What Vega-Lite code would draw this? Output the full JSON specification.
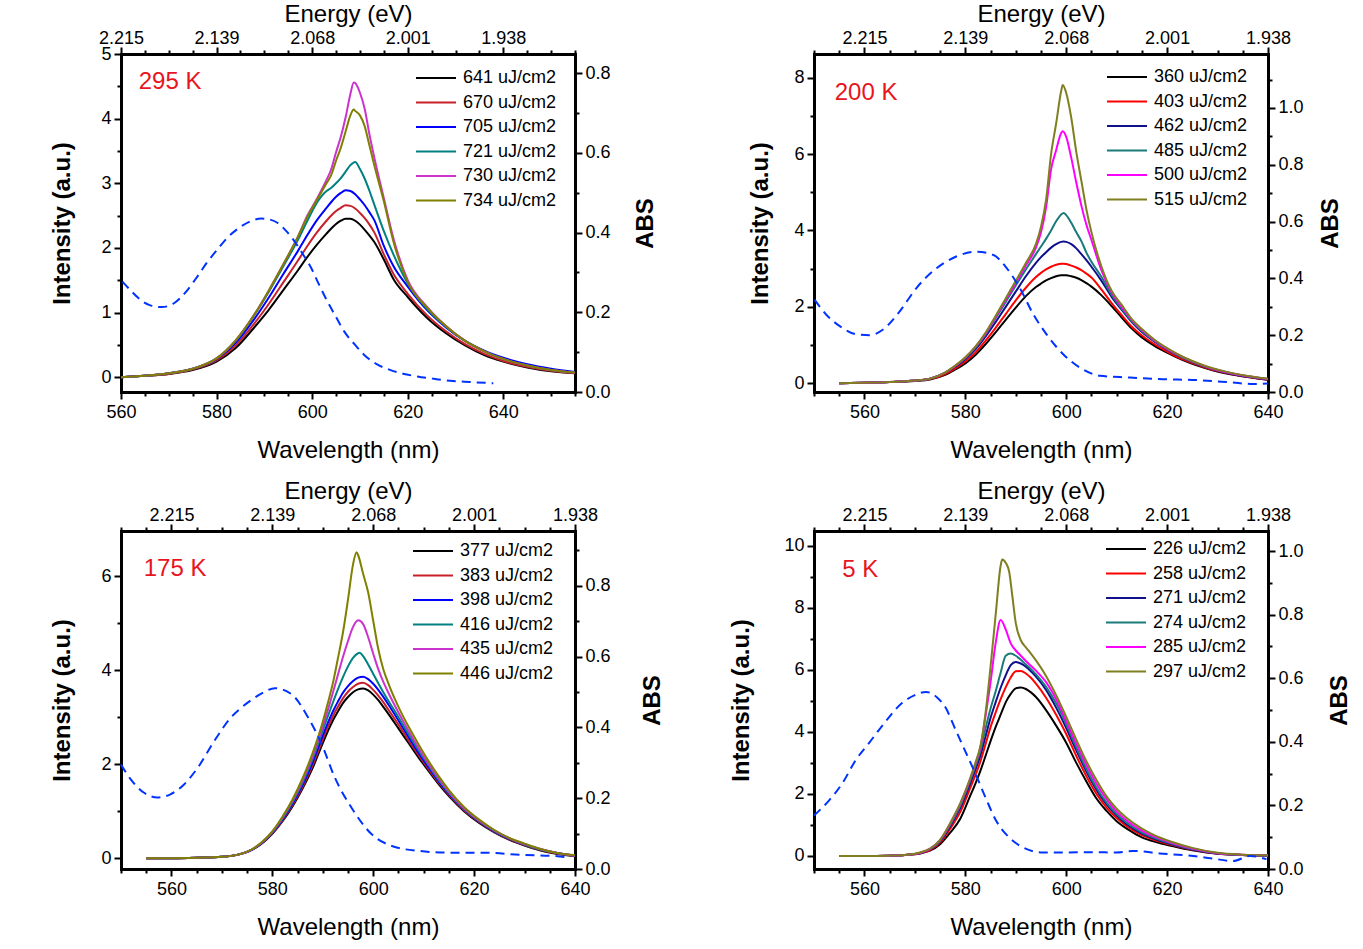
{
"$schema": "https://vega.github.io/schema/vega-lite/v6.json",
"background": "white",
"padding": {"left": 50, "top": 2, "right": 5, "bottom": 5},
"columns": 2,
"spacing": {"row": 139, "column": 239},
"bounds": "flush",
"datasets": {
"p1": [
{"s":"641","w":560,"v":0},{"s":"641","w":565,"v":0.02},{"s":"641","w":570,"v":0.05},{"s":"641","w":575,"v":0.11},{"s":"641","w":580,"v":0.24},{"s":"641","w":584,"v":0.45},{"s":"641","w":588,"v":0.78},{"s":"641","w":591,"v":1.05},{"s":"641","w":594,"v":1.35},{"s":"641","w":597,"v":1.65},{"s":"641","w":599,"v":1.86},{"s":"641","w":601,"v":2.05},{"s":"641","w":603,"v":2.22},{"s":"641","w":604,"v":2.30},{"s":"641","w":605,"v":2.37},{"s":"641","w":606,"v":2.42},{"s":"641","w":607,"v":2.45},{"s":"641","w":608,"v":2.45},{"s":"641","w":609,"v":2.42},{"s":"641","w":610,"v":2.36},{"s":"641","w":611,"v":2.28},{"s":"641","w":612,"v":2.19},{"s":"641","w":613,"v":2.09},{"s":"641","w":615,"v":1.82},{"s":"641","w":617,"v":1.52},{"s":"641","w":620,"v":1.24},{"s":"641","w":624,"v":0.92},{"s":"641","w":628,"v":0.68},{"s":"641","w":632,"v":0.49},{"s":"641","w":636,"v":0.34},{"s":"641","w":640,"v":0.24},{"s":"641","w":645,"v":0.15},{"s":"641","w":650,"v":0.09},{"s":"641","w":655,"v":0.06},
{"s":"670","w":560,"v":0},{"s":"670","w":565,"v":0.02},{"s":"670","w":570,"v":0.05},{"s":"670","w":575,"v":0.12},{"s":"670","w":580,"v":0.26},{"s":"670","w":584,"v":0.49},{"s":"670","w":588,"v":0.84},{"s":"670","w":591,"v":1.14},{"s":"670","w":594,"v":1.47},{"s":"670","w":597,"v":1.80},{"s":"670","w":599,"v":2.03},{"s":"670","w":601,"v":2.24},{"s":"670","w":603,"v":2.42},{"s":"670","w":604,"v":2.50},{"s":"670","w":605,"v":2.57},{"s":"670","w":606,"v":2.62},{"s":"670","w":607,"v":2.66},{"s":"670","w":608,"v":2.65},{"s":"670","w":609,"v":2.61},{"s":"670","w":610,"v":2.54},{"s":"670","w":611,"v":2.46},{"s":"670","w":612,"v":2.36},{"s":"670","w":613,"v":2.24},{"s":"670","w":615,"v":1.90},{"s":"670","w":617,"v":1.60},{"s":"670","w":620,"v":1.29},{"s":"670","w":624,"v":0.96},{"s":"670","w":628,"v":0.71},{"s":"670","w":632,"v":0.51},{"s":"670","w":636,"v":0.36},{"s":"670","w":640,"v":0.25},{"s":"670","w":645,"v":0.16},{"s":"670","w":650,"v":0.10},{"s":"670","w":655,"v":0.06},
{"s":"705","w":560,"v":0},{"s":"705","w":565,"v":0.02},{"s":"705","w":570,"v":0.06},{"s":"705","w":575,"v":0.13},{"s":"705","w":580,"v":0.28},{"s":"705","w":584,"v":0.53},{"s":"705","w":588,"v":0.91},{"s":"705","w":591,"v":1.24},{"s":"705","w":594,"v":1.60},{"s":"705","w":597,"v":1.95},{"s":"705","w":599,"v":2.20},{"s":"705","w":601,"v":2.43},{"s":"705","w":603,"v":2.62},{"s":"705","w":604,"v":2.71},{"s":"705","w":605,"v":2.79},{"s":"705","w":606,"v":2.85},{"s":"705","w":607,"v":2.89},{"s":"705","w":608,"v":2.88},{"s":"705","w":609,"v":2.83},{"s":"705","w":610,"v":2.75},{"s":"705","w":611,"v":2.66},{"s":"705","w":612,"v":2.55},{"s":"705","w":613,"v":2.43},{"s":"705","w":615,"v":2.03},{"s":"705","w":617,"v":1.72},{"s":"705","w":620,"v":1.40},{"s":"705","w":624,"v":1.04},{"s":"705","w":628,"v":0.77},{"s":"705","w":632,"v":0.56},{"s":"705","w":636,"v":0.41},{"s":"705","w":640,"v":0.30},{"s":"705","w":645,"v":0.20},{"s":"705","w":650,"v":0.13},{"s":"705","w":655,"v":0.08},
{"s":"721","w":560,"v":0},{"s":"721","w":565,"v":0.02},{"s":"721","w":570,"v":0.06},{"s":"721","w":575,"v":0.13},{"s":"721","w":580,"v":0.29},{"s":"721","w":584,"v":0.56},{"s":"721","w":588,"v":0.97},{"s":"721","w":591,"v":1.33},{"s":"721","w":594,"v":1.72},{"s":"721","w":597,"v":2.12},{"s":"721","w":599,"v":2.42},{"s":"721","w":601,"v":2.70},{"s":"721","w":603,"v":2.88},{"s":"721","w":604,"v":2.93},{"s":"721","w":605,"v":3.00},{"s":"721","w":606,"v":3.08},{"s":"721","w":607,"v":3.18},{"s":"721","w":608,"v":3.28},{"s":"721","w":609,"v":3.33},{"s":"721","w":610,"v":3.22},{"s":"721","w":611,"v":3.07},{"s":"721","w":612,"v":2.88},{"s":"721","w":613,"v":2.67},{"s":"721","w":615,"v":2.26},{"s":"721","w":617,"v":1.90},{"s":"721","w":620,"v":1.45},{"s":"721","w":624,"v":1.06},{"s":"721","w":628,"v":0.78},{"s":"721","w":632,"v":0.56},{"s":"721","w":636,"v":0.40},{"s":"721","w":640,"v":0.28},{"s":"721","w":645,"v":0.18},{"s":"721","w":650,"v":0.11},{"s":"721","w":655,"v":0.07},
{"s":"730","w":560,"v":0},{"s":"730","w":565,"v":0.02},{"s":"730","w":570,"v":0.06},{"s":"730","w":575,"v":0.13},{"s":"730","w":580,"v":0.29},{"s":"730","w":584,"v":0.57},{"s":"730","w":588,"v":0.98},{"s":"730","w":591,"v":1.35},{"s":"730","w":594,"v":1.75},{"s":"730","w":597,"v":2.17},{"s":"730","w":599,"v":2.50},{"s":"730","w":601,"v":2.76},{"s":"730","w":603,"v":3.05},{"s":"730","w":604,"v":3.22},{"s":"730","w":605,"v":3.48},{"s":"730","w":606,"v":3.72},{"s":"730","w":607,"v":4.02},{"s":"730","w":608,"v":4.38},{"s":"730","w":608.7,"v":4.56},{"s":"730","w":609,"v":4.55},{"s":"730","w":610,"v":4.40},{"s":"730","w":611,"v":4.15},{"s":"730","w":612,"v":3.75},{"s":"730","w":613,"v":3.40},{"s":"730","w":615,"v":2.77},{"s":"730","w":617,"v":2.15},{"s":"730","w":620,"v":1.50},{"s":"730","w":624,"v":1.09},{"s":"730","w":628,"v":0.79},{"s":"730","w":632,"v":0.56},{"s":"730","w":636,"v":0.40},{"s":"730","w":640,"v":0.28},{"s":"730","w":645,"v":0.18},{"s":"730","w":650,"v":0.11},{"s":"730","w":655,"v":0.07},
{"s":"734","w":560,"v":0},{"s":"734","w":565,"v":0.02},{"s":"734","w":570,"v":0.06},{"s":"734","w":575,"v":0.13},{"s":"734","w":580,"v":0.29},{"s":"734","w":584,"v":0.57},{"s":"734","w":588,"v":0.98},{"s":"734","w":591,"v":1.35},{"s":"734","w":594,"v":1.75},{"s":"734","w":597,"v":2.17},{"s":"734","w":599,"v":2.48},{"s":"734","w":601,"v":2.74},{"s":"734","w":603,"v":3.00},{"s":"734","w":604,"v":3.13},{"s":"734","w":605,"v":3.35},{"s":"734","w":606,"v":3.55},{"s":"734","w":607,"v":3.80},{"s":"734","w":608,"v":4.05},{"s":"734","w":608.7,"v":4.14},{"s":"734","w":609,"v":4.12},{"s":"734","w":610,"v":4.05},{"s":"734","w":611,"v":3.88},{"s":"734","w":612,"v":3.58},{"s":"734","w":613,"v":3.28},{"s":"734","w":615,"v":2.72},{"s":"734","w":617,"v":2.10},{"s":"734","w":620,"v":1.47},{"s":"734","w":624,"v":1.08},{"s":"734","w":628,"v":0.79},{"s":"734","w":632,"v":0.56},{"s":"734","w":636,"v":0.40},{"s":"734","w":640,"v":0.28},{"s":"734","w":645,"v":0.18},{"s":"734","w":650,"v":0.11},{"s":"734","w":655,"v":0.07}
],
"a1": [
{"w":560.3,"v":0.277},{"w":562,"v":0.255},{"w":564,"v":0.232},{"w":566,"v":0.218},{"w":568.5,"v":0.213},{"w":571,"v":0.222},{"w":573.5,"v":0.25},{"w":576,"v":0.29},{"w":578,"v":0.325},{"w":580.4,"v":0.361},{"w":582.5,"v":0.39},{"w":584.5,"v":0.41},{"w":587,"v":0.428},{"w":589.4,"v":0.435},{"w":591,"v":0.433},{"w":592.8,"v":0.424},{"w":594.5,"v":0.405},{"w":596.3,"v":0.378},{"w":598,"v":0.347},{"w":599.8,"v":0.311},{"w":601.5,"v":0.268},{"w":603.2,"v":0.227},{"w":605,"v":0.188},{"w":606.7,"v":0.152},{"w":609,"v":0.118},{"w":610.9,"v":0.093},{"w":613.5,"v":0.07},{"w":616.4,"v":0.055},{"w":619,"v":0.046},{"w":622,"v":0.039},{"w":625.5,"v":0.033},{"w":628.9,"v":0.028},{"w":633,"v":0.025},{"w":637.9,"v":0.022}
],
"p2": [
{"s":"360","w":555,"v":0},{"s":"360","w":560,"v":0.01},{"s":"360","w":565,"v":0.03},{"s":"360","w":570,"v":0.06},{"s":"360","w":573,"v":0.10},{"s":"360","w":576,"v":0.22},{"s":"360","w":578,"v":0.36},{"s":"360","w":580,"v":0.52},{"s":"360","w":582,"v":0.74},{"s":"360","w":584,"v":1.02},{"s":"360","w":586,"v":1.33},{"s":"360","w":588,"v":1.66},{"s":"360","w":590,"v":1.98},{"s":"360","w":592,"v":2.28},{"s":"360","w":594,"v":2.52},{"s":"360","w":595,"v":2.61},{"s":"360","w":596,"v":2.69},{"s":"360","w":597,"v":2.75},{"s":"360","w":598,"v":2.80},{"s":"360","w":599,"v":2.83},{"s":"360","w":599.5,"v":2.83},{"s":"360","w":600,"v":2.83},{"s":"360","w":601,"v":2.80},{"s":"360","w":602,"v":2.76},{"s":"360","w":603,"v":2.70},{"s":"360","w":604,"v":2.62},{"s":"360","w":605,"v":2.53},{"s":"360","w":607,"v":2.30},{"s":"360","w":609,"v":2.02},{"s":"360","w":611,"v":1.72},{"s":"360","w":613,"v":1.43},{"s":"360","w":615,"v":1.20},{"s":"360","w":617.5,"v":0.98},{"s":"360","w":620,"v":0.80},{"s":"360","w":623,"v":0.61},{"s":"360","w":626,"v":0.46},{"s":"360","w":629,"v":0.34},{"s":"360","w":632,"v":0.25},{"s":"360","w":636,"v":0.16},{"s":"360","w":640,"v":0.09},
{"s":"403","w":555,"v":0},{"s":"403","w":560,"v":0.01},{"s":"403","w":565,"v":0.03},{"s":"403","w":570,"v":0.07},{"s":"403","w":573,"v":0.11},{"s":"403","w":576,"v":0.24},{"s":"403","w":578,"v":0.39},{"s":"403","w":580,"v":0.57},{"s":"403","w":582,"v":0.80},{"s":"403","w":584,"v":1.11},{"s":"403","w":586,"v":1.45},{"s":"403","w":588,"v":1.81},{"s":"403","w":590,"v":2.17},{"s":"403","w":592,"v":2.50},{"s":"403","w":594,"v":2.78},{"s":"403","w":595,"v":2.89},{"s":"403","w":596,"v":2.98},{"s":"403","w":597,"v":3.05},{"s":"403","w":598,"v":3.10},{"s":"403","w":599,"v":3.13},{"s":"403","w":599.5,"v":3.13},{"s":"403","w":600,"v":3.12},{"s":"403","w":601,"v":3.08},{"s":"403","w":602,"v":3.03},{"s":"403","w":603,"v":2.96},{"s":"403","w":604,"v":2.87},{"s":"403","w":605,"v":2.77},{"s":"403","w":607,"v":2.45},{"s":"403","w":609,"v":2.10},{"s":"403","w":611,"v":1.78},{"s":"403","w":613,"v":1.48},{"s":"403","w":615,"v":1.25},{"s":"403","w":617.5,"v":1.02},{"s":"403","w":620,"v":0.83},{"s":"403","w":623,"v":0.63},{"s":"403","w":626,"v":0.48},{"s":"403","w":629,"v":0.35},{"s":"403","w":632,"v":0.26},{"s":"403","w":636,"v":0.16},{"s":"403","w":640,"v":0.09},
{"s":"462","w":555,"v":0},{"s":"462","w":560,"v":0.01},{"s":"462","w":565,"v":0.03},{"s":"462","w":570,"v":0.07},{"s":"462","w":573,"v":0.12},{"s":"462","w":576,"v":0.27},{"s":"462","w":578,"v":0.43},{"s":"462","w":580,"v":0.63},{"s":"462","w":582,"v":0.89},{"s":"462","w":584,"v":1.22},{"s":"462","w":586,"v":1.60},{"s":"462","w":588,"v":2.00},{"s":"462","w":590,"v":2.40},{"s":"462","w":592,"v":2.80},{"s":"462","w":594,"v":3.15},{"s":"462","w":595,"v":3.30},{"s":"462","w":596,"v":3.43},{"s":"462","w":597,"v":3.55},{"s":"462","w":598,"v":3.64},{"s":"462","w":599,"v":3.70},{"s":"462","w":599.5,"v":3.71},{"s":"462","w":600,"v":3.70},{"s":"462","w":601,"v":3.64},{"s":"462","w":602,"v":3.53},{"s":"462","w":603,"v":3.38},{"s":"462","w":604,"v":3.22},{"s":"462","w":605,"v":3.05},{"s":"462","w":607,"v":2.68},{"s":"462","w":609,"v":2.26},{"s":"462","w":611,"v":1.92},{"s":"462","w":613,"v":1.60},{"s":"462","w":615,"v":1.34},{"s":"462","w":617.5,"v":1.09},{"s":"462","w":620,"v":0.88},{"s":"462","w":623,"v":0.67},{"s":"462","w":626,"v":0.50},{"s":"462","w":629,"v":0.37},{"s":"462","w":632,"v":0.27},{"s":"462","w":636,"v":0.17},{"s":"462","w":640,"v":0.10},
{"s":"485","w":555,"v":0},{"s":"485","w":560,"v":0.01},{"s":"485","w":565,"v":0.03},{"s":"485","w":570,"v":0.07},{"s":"485","w":573,"v":0.12},{"s":"485","w":576,"v":0.28},{"s":"485","w":578,"v":0.45},{"s":"485","w":580,"v":0.66},{"s":"485","w":582,"v":0.93},{"s":"485","w":584,"v":1.28},{"s":"485","w":586,"v":1.70},{"s":"485","w":588,"v":2.13},{"s":"485","w":590,"v":2.56},{"s":"485","w":592,"v":2.98},{"s":"485","w":594,"v":3.38},{"s":"485","w":595,"v":3.58},{"s":"485","w":596,"v":3.78},{"s":"485","w":597,"v":4.00},{"s":"485","w":598,"v":4.24},{"s":"485","w":599,"v":4.42},{"s":"485","w":599.5,"v":4.46},{"s":"485","w":600,"v":4.40},{"s":"485","w":601,"v":4.20},{"s":"485","w":602,"v":3.95},{"s":"485","w":603,"v":3.72},{"s":"485","w":604,"v":3.42},{"s":"485","w":605,"v":3.18},{"s":"485","w":607,"v":2.78},{"s":"485","w":609,"v":2.32},{"s":"485","w":611,"v":1.95},{"s":"485","w":613,"v":1.63},{"s":"485","w":615,"v":1.37},{"s":"485","w":617.5,"v":1.11},{"s":"485","w":620,"v":0.89},{"s":"485","w":623,"v":0.68},{"s":"485","w":626,"v":0.51},{"s":"485","w":629,"v":0.38},{"s":"485","w":632,"v":0.28},{"s":"485","w":636,"v":0.18},{"s":"485","w":640,"v":0.11},
{"s":"500","w":555,"v":0},{"s":"500","w":560,"v":0.01},{"s":"500","w":565,"v":0.03},{"s":"500","w":570,"v":0.07},{"s":"500","w":573,"v":0.12},{"s":"500","w":576,"v":0.28},{"s":"500","w":578,"v":0.45},{"s":"500","w":580,"v":0.67},{"s":"500","w":582,"v":0.95},{"s":"500","w":584,"v":1.30},{"s":"500","w":586,"v":1.73},{"s":"500","w":588,"v":2.18},{"s":"500","w":590,"v":2.62},{"s":"500","w":592,"v":3.08},{"s":"500","w":594,"v":3.55},{"s":"500","w":595,"v":3.95},{"s":"500","w":596,"v":4.60},{"s":"500","w":597,"v":5.60},{"s":"500","w":598,"v":6.10},{"s":"500","w":599,"v":6.55},{"s":"500","w":599.3,"v":6.60},{"s":"500","w":600,"v":6.45},{"s":"500","w":601,"v":5.90},{"s":"500","w":602,"v":5.25},{"s":"500","w":603,"v":4.65},{"s":"500","w":604,"v":4.15},{"s":"500","w":605,"v":3.75},{"s":"500","w":607,"v":2.95},{"s":"500","w":609,"v":2.38},{"s":"500","w":611,"v":2.00},{"s":"500","w":613,"v":1.66},{"s":"500","w":615,"v":1.39},{"s":"500","w":617.5,"v":1.12},{"s":"500","w":620,"v":0.90},{"s":"500","w":623,"v":0.69},{"s":"500","w":626,"v":0.52},{"s":"500","w":629,"v":0.38},{"s":"500","w":632,"v":0.28},{"s":"500","w":636,"v":0.18},{"s":"500","w":640,"v":0.11},
{"s":"515","w":555,"v":0},{"s":"515","w":560,"v":0.01},{"s":"515","w":565,"v":0.03},{"s":"515","w":570,"v":0.07},{"s":"515","w":573,"v":0.12},{"s":"515","w":576,"v":0.28},{"s":"515","w":578,"v":0.46},{"s":"515","w":580,"v":0.68},{"s":"515","w":582,"v":0.96},{"s":"515","w":584,"v":1.32},{"s":"515","w":586,"v":1.76},{"s":"515","w":588,"v":2.22},{"s":"515","w":590,"v":2.68},{"s":"515","w":592,"v":3.15},{"s":"515","w":594,"v":3.65},{"s":"515","w":595,"v":4.10},{"s":"515","w":596,"v":4.80},{"s":"515","w":597,"v":6.00},{"s":"515","w":598,"v":6.80},{"s":"515","w":599,"v":7.65},{"s":"515","w":599.3,"v":7.81},{"s":"515","w":600,"v":7.60},{"s":"515","w":601,"v":6.95},{"s":"515","w":602,"v":6.05},{"s":"515","w":603,"v":5.30},{"s":"515","w":604,"v":4.55},{"s":"515","w":605,"v":3.95},{"s":"515","w":607,"v":3.05},{"s":"515","w":609,"v":2.42},{"s":"515","w":611,"v":2.05},{"s":"515","w":613,"v":1.68},{"s":"515","w":615,"v":1.42},{"s":"515","w":617.5,"v":1.14},{"s":"515","w":620,"v":0.92},{"s":"515","w":623,"v":0.70},{"s":"515","w":626,"v":0.53},{"s":"515","w":629,"v":0.39},{"s":"515","w":632,"v":0.29},{"s":"515","w":636,"v":0.19},{"s":"515","w":640,"v":0.12}
],
"a2": [
{"w":550.1,"v":0.325},{"w":552.4,"v":0.273},{"w":555.1,"v":0.232},{"w":558.4,"v":0.203},{"w":561,"v":0.2},{"w":563.7,"v":0.22},{"w":567,"v":0.284},{"w":570.3,"v":0.366},{"w":574.3,"v":0.436},{"w":578.2,"v":0.477},{"w":582.2,"v":0.494},{"w":585.5,"v":0.483},{"w":588.2,"v":0.436},{"w":590.8,"v":0.366},{"w":593.5,"v":0.273},{"w":596.1,"v":0.203},{"w":599.4,"v":0.133},{"w":602.7,"v":0.086},{"w":606.7,"v":0.057},{"w":612.6,"v":0.051},{"w":619.2,"v":0.045},{"w":625.8,"v":0.042},{"w":632.5,"v":0.034},{"w":637.1,"v":0.028},{"w":640,"v":0.03}
],
"p3": [
{"s":"377","w":555,"v":0},{"s":"377","w":560,"v":0},{"s":"377","w":565,"v":0.01},{"s":"377","w":570,"v":0.03},{"s":"377","w":573,"v":0.07},{"s":"377","w":576,"v":0.18},{"s":"377","w":578,"v":0.32},{"s":"377","w":580,"v":0.52},{"s":"377","w":582,"v":0.78},{"s":"377","w":584,"v":1.10},{"s":"377","w":586,"v":1.48},{"s":"377","w":588,"v":1.92},{"s":"377","w":590,"v":2.45},{"s":"377","w":591,"v":2.70},{"s":"377","w":592,"v":2.93},{"s":"377","w":593,"v":3.12},{"s":"377","w":594,"v":3.30},{"s":"377","w":595,"v":3.43},{"s":"377","w":596,"v":3.53},{"s":"377","w":597,"v":3.59},{"s":"377","w":598,"v":3.61},{"s":"377","w":599,"v":3.57},{"s":"377","w":600,"v":3.48},{"s":"377","w":601,"v":3.36},{"s":"377","w":602,"v":3.22},{"s":"377","w":603,"v":3.07},{"s":"377","w":605,"v":2.76},{"s":"377","w":607,"v":2.45},{"s":"377","w":609,"v":2.14},{"s":"377","w":611,"v":1.85},{"s":"377","w":613,"v":1.57},{"s":"377","w":615,"v":1.32},{"s":"377","w":618,"v":1.00},{"s":"377","w":621,"v":0.75},{"s":"377","w":624,"v":0.55},{"s":"377","w":627,"v":0.39},{"s":"377","w":630,"v":0.27},{"s":"377","w":633,"v":0.17},{"s":"377","w":636,"v":0.10},{"s":"377","w":640,"v":0.04},
{"s":"383","w":555,"v":0},{"s":"383","w":560,"v":0},{"s":"383","w":565,"v":0.01},{"s":"383","w":570,"v":0.03},{"s":"383","w":573,"v":0.07},{"s":"383","w":576,"v":0.18},{"s":"383","w":578,"v":0.33},{"s":"383","w":580,"v":0.53},{"s":"383","w":582,"v":0.80},{"s":"383","w":584,"v":1.13},{"s":"383","w":586,"v":1.52},{"s":"383","w":588,"v":1.98},{"s":"383","w":590,"v":2.53},{"s":"383","w":591,"v":2.79},{"s":"383","w":592,"v":3.02},{"s":"383","w":593,"v":3.22},{"s":"383","w":594,"v":3.40},{"s":"383","w":595,"v":3.54},{"s":"383","w":596,"v":3.64},{"s":"383","w":597,"v":3.71},{"s":"383","w":598,"v":3.73},{"s":"383","w":599,"v":3.68},{"s":"383","w":600,"v":3.58},{"s":"383","w":601,"v":3.46},{"s":"383","w":602,"v":3.32},{"s":"383","w":603,"v":3.16},{"s":"383","w":605,"v":2.84},{"s":"383","w":607,"v":2.51},{"s":"383","w":609,"v":2.19},{"s":"383","w":611,"v":1.89},{"s":"383","w":613,"v":1.60},{"s":"383","w":615,"v":1.35},{"s":"383","w":618,"v":1.02},{"s":"383","w":621,"v":0.77},{"s":"383","w":624,"v":0.56},{"s":"383","w":627,"v":0.40},{"s":"383","w":630,"v":0.28},{"s":"383","w":633,"v":0.18},{"s":"383","w":636,"v":0.11},{"s":"383","w":640,"v":0.05},
{"s":"398","w":555,"v":0},{"s":"398","w":560,"v":0},{"s":"398","w":565,"v":0.01},{"s":"398","w":570,"v":0.03},{"s":"398","w":573,"v":0.07},{"s":"398","w":576,"v":0.18},{"s":"398","w":578,"v":0.33},{"s":"398","w":580,"v":0.54},{"s":"398","w":582,"v":0.82},{"s":"398","w":584,"v":1.16},{"s":"398","w":586,"v":1.56},{"s":"398","w":588,"v":2.04},{"s":"398","w":590,"v":2.61},{"s":"398","w":591,"v":2.88},{"s":"398","w":592,"v":3.12},{"s":"398","w":593,"v":3.33},{"s":"398","w":594,"v":3.52},{"s":"398","w":595,"v":3.66},{"s":"398","w":596,"v":3.77},{"s":"398","w":597,"v":3.84},{"s":"398","w":598,"v":3.86},{"s":"398","w":599,"v":3.81},{"s":"398","w":600,"v":3.71},{"s":"398","w":601,"v":3.58},{"s":"398","w":602,"v":3.43},{"s":"398","w":603,"v":3.27},{"s":"398","w":605,"v":2.93},{"s":"398","w":607,"v":2.58},{"s":"398","w":609,"v":2.24},{"s":"398","w":611,"v":1.93},{"s":"398","w":613,"v":1.63},{"s":"398","w":615,"v":1.37},{"s":"398","w":618,"v":1.04},{"s":"398","w":621,"v":0.78},{"s":"398","w":624,"v":0.57},{"s":"398","w":627,"v":0.41},{"s":"398","w":630,"v":0.29},{"s":"398","w":633,"v":0.19},{"s":"398","w":636,"v":0.12},{"s":"398","w":640,"v":0.05},
{"s":"416","w":555,"v":0},{"s":"416","w":560,"v":0},{"s":"416","w":565,"v":0.01},{"s":"416","w":570,"v":0.03},{"s":"416","w":573,"v":0.07},{"s":"416","w":576,"v":0.19},{"s":"416","w":578,"v":0.34},{"s":"416","w":580,"v":0.55},{"s":"416","w":582,"v":0.84},{"s":"416","w":584,"v":1.19},{"s":"416","w":586,"v":1.61},{"s":"416","w":588,"v":2.11},{"s":"416","w":590,"v":2.72},{"s":"416","w":591,"v":3.02},{"s":"416","w":592,"v":3.31},{"s":"416","w":593,"v":3.59},{"s":"416","w":594,"v":3.85},{"s":"416","w":595,"v":4.08},{"s":"416","w":596,"v":4.26},{"s":"416","w":597,"v":4.36},{"s":"416","w":597.3,"v":4.37},{"s":"416","w":598,"v":4.30},{"s":"416","w":599,"v":4.12},{"s":"416","w":600,"v":3.92},{"s":"416","w":601,"v":3.72},{"s":"416","w":602,"v":3.53},{"s":"416","w":603,"v":3.35},{"s":"416","w":605,"v":3.00},{"s":"416","w":607,"v":2.64},{"s":"416","w":609,"v":2.29},{"s":"416","w":611,"v":1.97},{"s":"416","w":613,"v":1.66},{"s":"416","w":615,"v":1.39},{"s":"416","w":618,"v":1.05},{"s":"416","w":621,"v":0.79},{"s":"416","w":624,"v":0.58},{"s":"416","w":627,"v":0.42},{"s":"416","w":630,"v":0.29},{"s":"416","w":633,"v":0.19},{"s":"416","w":636,"v":0.12},{"s":"416","w":640,"v":0.05},
{"s":"435","w":555,"v":0},{"s":"435","w":560,"v":0},{"s":"435","w":565,"v":0.01},{"s":"435","w":570,"v":0.03},{"s":"435","w":573,"v":0.07},{"s":"435","w":576,"v":0.19},{"s":"435","w":578,"v":0.34},{"s":"435","w":580,"v":0.56},{"s":"435","w":582,"v":0.86},{"s":"435","w":584,"v":1.22},{"s":"435","w":586,"v":1.65},{"s":"435","w":588,"v":2.17},{"s":"435","w":590,"v":2.80},{"s":"435","w":591,"v":3.15},{"s":"435","w":592,"v":3.52},{"s":"435","w":593,"v":3.90},{"s":"435","w":594,"v":4.28},{"s":"435","w":595,"v":4.62},{"s":"435","w":596,"v":4.92},{"s":"435","w":597,"v":5.06},{"s":"435","w":598,"v":4.98},{"s":"435","w":599,"v":4.70},{"s":"435","w":600,"v":4.35},{"s":"435","w":601,"v":4.02},{"s":"435","w":602,"v":3.75},{"s":"435","w":603,"v":3.52},{"s":"435","w":605,"v":3.10},{"s":"435","w":607,"v":2.71},{"s":"435","w":609,"v":2.34},{"s":"435","w":611,"v":2.00},{"s":"435","w":613,"v":1.69},{"s":"435","w":615,"v":1.41},{"s":"435","w":618,"v":1.06},{"s":"435","w":621,"v":0.80},{"s":"435","w":624,"v":0.59},{"s":"435","w":627,"v":0.42},{"s":"435","w":630,"v":0.30},{"s":"435","w":633,"v":0.20},{"s":"435","w":636,"v":0.12},{"s":"435","w":640,"v":0.05},
{"s":"446","w":555,"v":0},{"s":"446","w":560,"v":0},{"s":"446","w":565,"v":0.01},{"s":"446","w":570,"v":0.03},{"s":"446","w":573,"v":0.07},{"s":"446","w":576,"v":0.19},{"s":"446","w":578,"v":0.35},{"s":"446","w":580,"v":0.57},{"s":"446","w":582,"v":0.88},{"s":"446","w":584,"v":1.25},{"s":"446","w":586,"v":1.70},{"s":"446","w":588,"v":2.24},{"s":"446","w":590,"v":2.90},{"s":"446","w":591,"v":3.30},{"s":"446","w":592,"v":3.72},{"s":"446","w":593,"v":4.25},{"s":"446","w":594,"v":4.80},{"s":"446","w":595,"v":5.50},{"s":"446","w":596,"v":6.25},{"s":"446","w":596.7,"v":6.51},{"s":"446","w":597,"v":6.45},{"s":"446","w":598,"v":6.05},{"s":"446","w":599,"v":5.65},{"s":"446","w":600,"v":5.05},{"s":"446","w":601,"v":4.45},{"s":"446","w":602,"v":4.02},{"s":"446","w":603,"v":3.72},{"s":"446","w":605,"v":3.22},{"s":"446","w":607,"v":2.80},{"s":"446","w":609,"v":2.42},{"s":"446","w":611,"v":2.06},{"s":"446","w":613,"v":1.74},{"s":"446","w":615,"v":1.45},{"s":"446","w":618,"v":1.09},{"s":"446","w":621,"v":0.82},{"s":"446","w":624,"v":0.60},{"s":"446","w":627,"v":0.43},{"s":"446","w":630,"v":0.31},{"s":"446","w":633,"v":0.20},{"s":"446","w":636,"v":0.12},{"s":"446","w":640,"v":0.06}
],
"a3": [
{"w":550,"v":0.295},{"w":551.9,"v":0.254},{"w":554.5,"v":0.216},{"w":557.2,"v":0.202},{"w":559.8,"v":0.211},{"w":562.5,"v":0.239},{"w":565.2,"v":0.286},{"w":568.5,"v":0.362},{"w":571.8,"v":0.428},{"w":573.8,"v":0.455},{"w":575.8,"v":0.477},{"w":578,"v":0.497},{"w":580.5,"v":0.511},{"w":583.8,"v":0.494},{"w":587.1,"v":0.428},{"w":589.8,"v":0.352},{"w":592.4,"v":0.258},{"w":595.7,"v":0.173},{"w":599.7,"v":0.098},{"w":603.7,"v":0.065},{"w":609.1,"v":0.051},{"w":615.7,"v":0.046},{"w":622.4,"v":0.046},{"w":629,"v":0.04},{"w":635.6,"v":0.037},{"w":639,"v":0.032}
],
"p4": [
{"s":"226","w":555,"v":0},{"s":"226","w":560,"v":0},{"s":"226","w":565,"v":0.01},{"s":"226","w":568,"v":0.03},{"s":"226","w":571,"v":0.08},{"s":"226","w":573,"v":0.17},{"s":"226","w":575,"v":0.38},{"s":"226","w":577,"v":0.75},{"s":"226","w":579,"v":1.20},{"s":"226","w":581,"v":1.95},{"s":"226","w":582,"v":2.33},{"s":"226","w":583,"v":2.75},{"s":"226","w":584,"v":3.22},{"s":"226","w":585,"v":3.70},{"s":"226","w":586,"v":4.15},{"s":"226","w":587,"v":4.55},{"s":"226","w":588,"v":4.95},{"s":"226","w":589,"v":5.22},{"s":"226","w":590,"v":5.40},{"s":"226","w":591,"v":5.43},{"s":"226","w":592,"v":5.38},{"s":"226","w":593,"v":5.27},{"s":"226","w":594,"v":5.12},{"s":"226","w":596,"v":4.70},{"s":"226","w":598,"v":4.20},{"s":"226","w":600,"v":3.65},{"s":"226","w":602,"v":3.00},{"s":"226","w":604,"v":2.40},{"s":"226","w":606,"v":1.85},{"s":"226","w":608,"v":1.45},{"s":"226","w":610,"v":1.12},{"s":"226","w":612,"v":0.88},{"s":"226","w":615,"v":0.60},{"s":"226","w":618,"v":0.44},{"s":"226","w":621,"v":0.32},{"s":"226","w":625,"v":0.18},{"s":"226","w":630,"v":0.07},{"s":"226","w":635,"v":0.03},{"s":"226","w":640,"v":0.01},
{"s":"258","w":555,"v":0},{"s":"258","w":560,"v":0},{"s":"258","w":565,"v":0.01},{"s":"258","w":568,"v":0.03},{"s":"258","w":571,"v":0.09},{"s":"258","w":573,"v":0.19},{"s":"258","w":575,"v":0.43},{"s":"258","w":577,"v":0.88},{"s":"258","w":579,"v":1.42},{"s":"258","w":581,"v":2.20},{"s":"258","w":582,"v":2.60},{"s":"258","w":583,"v":3.05},{"s":"258","w":584,"v":3.60},{"s":"258","w":585,"v":4.15},{"s":"258","w":586,"v":4.62},{"s":"258","w":587,"v":5.05},{"s":"258","w":588,"v":5.43},{"s":"258","w":589,"v":5.75},{"s":"258","w":590,"v":5.95},{"s":"258","w":591,"v":5.96},{"s":"258","w":592,"v":5.88},{"s":"258","w":593,"v":5.74},{"s":"258","w":594,"v":5.55},{"s":"258","w":596,"v":5.10},{"s":"258","w":598,"v":4.55},{"s":"258","w":600,"v":3.93},{"s":"258","w":602,"v":3.22},{"s":"258","w":604,"v":2.57},{"s":"258","w":606,"v":2.00},{"s":"258","w":608,"v":1.56},{"s":"258","w":610,"v":1.22},{"s":"258","w":612,"v":0.96},{"s":"258","w":615,"v":0.67},{"s":"258","w":618,"v":0.49},{"s":"258","w":621,"v":0.35},{"s":"258","w":625,"v":0.20},{"s":"258","w":630,"v":0.08},{"s":"258","w":635,"v":0.03},{"s":"258","w":640,"v":0.01},
{"s":"271","w":555,"v":0},{"s":"271","w":560,"v":0},{"s":"271","w":565,"v":0.01},{"s":"271","w":568,"v":0.03},{"s":"271","w":571,"v":0.10},{"s":"271","w":573,"v":0.21},{"s":"271","w":575,"v":0.47},{"s":"271","w":577,"v":0.96},{"s":"271","w":579,"v":1.55},{"s":"271","w":581,"v":2.35},{"s":"271","w":582,"v":2.78},{"s":"271","w":583,"v":3.25},{"s":"271","w":584,"v":3.85},{"s":"271","w":585,"v":4.45},{"s":"271","w":586,"v":4.95},{"s":"271","w":587,"v":5.42},{"s":"271","w":588,"v":5.82},{"s":"271","w":589,"v":6.15},{"s":"271","w":590,"v":6.25},{"s":"271","w":591,"v":6.20},{"s":"271","w":592,"v":6.10},{"s":"271","w":593,"v":5.95},{"s":"271","w":594,"v":5.78},{"s":"271","w":596,"v":5.35},{"s":"271","w":598,"v":4.78},{"s":"271","w":600,"v":4.12},{"s":"271","w":602,"v":3.40},{"s":"271","w":604,"v":2.72},{"s":"271","w":606,"v":2.13},{"s":"271","w":608,"v":1.66},{"s":"271","w":610,"v":1.30},{"s":"271","w":612,"v":1.02},{"s":"271","w":615,"v":0.72},{"s":"271","w":618,"v":0.52},{"s":"271","w":621,"v":0.37},{"s":"271","w":625,"v":0.21},{"s":"271","w":630,"v":0.08},{"s":"271","w":635,"v":0.03},{"s":"271","w":640,"v":0.01},
{"s":"274","w":555,"v":0},{"s":"274","w":560,"v":0},{"s":"274","w":565,"v":0.01},{"s":"274","w":568,"v":0.03},{"s":"274","w":571,"v":0.10},{"s":"274","w":573,"v":0.22},{"s":"274","w":575,"v":0.49},{"s":"274","w":577,"v":1.00},{"s":"274","w":579,"v":1.62},{"s":"274","w":581,"v":2.45},{"s":"274","w":582,"v":2.90},{"s":"274","w":583,"v":3.40},{"s":"274","w":584,"v":4.10},{"s":"274","w":585,"v":4.75},{"s":"274","w":586,"v":5.30},{"s":"274","w":587,"v":5.90},{"s":"274","w":588,"v":6.45},{"s":"274","w":589,"v":6.52},{"s":"274","w":590,"v":6.45},{"s":"274","w":591,"v":6.32},{"s":"274","w":592,"v":6.17},{"s":"274","w":593,"v":6.02},{"s":"274","w":594,"v":5.85},{"s":"274","w":596,"v":5.45},{"s":"274","w":598,"v":4.92},{"s":"274","w":600,"v":4.25},{"s":"274","w":602,"v":3.50},{"s":"274","w":604,"v":2.80},{"s":"274","w":606,"v":2.20},{"s":"274","w":608,"v":1.72},{"s":"274","w":610,"v":1.35},{"s":"274","w":612,"v":1.07},{"s":"274","w":615,"v":0.76},{"s":"274","w":618,"v":0.55},{"s":"274","w":621,"v":0.39},{"s":"274","w":625,"v":0.22},{"s":"274","w":630,"v":0.09},{"s":"274","w":635,"v":0.03},{"s":"274","w":640,"v":0.01},
{"s":"285","w":555,"v":0},{"s":"285","w":560,"v":0},{"s":"285","w":565,"v":0.01},{"s":"285","w":568,"v":0.03},{"s":"285","w":571,"v":0.10},{"s":"285","w":573,"v":0.23},{"s":"285","w":575,"v":0.51},{"s":"285","w":577,"v":1.04},{"s":"285","w":579,"v":1.68},{"s":"285","w":581,"v":2.50},{"s":"285","w":582,"v":2.97},{"s":"285","w":583,"v":3.50},{"s":"285","w":584,"v":4.50},{"s":"285","w":585,"v":5.60},{"s":"285","w":586,"v":6.85},{"s":"285","w":587,"v":7.60},{"s":"285","w":588,"v":7.30},{"s":"285","w":589,"v":6.85},{"s":"285","w":590,"v":6.62},{"s":"285","w":591,"v":6.45},{"s":"285","w":592,"v":6.28},{"s":"285","w":593,"v":6.13},{"s":"285","w":594,"v":5.97},{"s":"285","w":596,"v":5.60},{"s":"285","w":598,"v":5.05},{"s":"285","w":600,"v":4.35},{"s":"285","w":602,"v":3.62},{"s":"285","w":604,"v":2.93},{"s":"285","w":606,"v":2.33},{"s":"285","w":608,"v":1.83},{"s":"285","w":610,"v":1.43},{"s":"285","w":612,"v":1.14},{"s":"285","w":615,"v":0.82},{"s":"285","w":618,"v":0.59},{"s":"285","w":621,"v":0.42},{"s":"285","w":625,"v":0.24},{"s":"285","w":630,"v":0.09},{"s":"285","w":635,"v":0.04},{"s":"285","w":640,"v":0.02},
{"s":"297","w":555,"v":0},{"s":"297","w":560,"v":0},{"s":"297","w":565,"v":0.01},{"s":"297","w":568,"v":0.03},{"s":"297","w":571,"v":0.11},{"s":"297","w":573,"v":0.24},{"s":"297","w":575,"v":0.52},{"s":"297","w":577,"v":1.06},{"s":"297","w":579,"v":1.70},{"s":"297","w":581,"v":2.52},{"s":"297","w":582,"v":3.00},{"s":"297","w":583,"v":3.55},{"s":"297","w":584,"v":4.60},{"s":"297","w":585,"v":6.10},{"s":"297","w":586,"v":7.75},{"s":"297","w":587,"v":9.35},{"s":"297","w":587.3,"v":9.55},{"s":"297","w":588,"v":9.45},{"s":"297","w":588.7,"v":9.15},{"s":"297","w":589.3,"v":8.40},{"s":"297","w":590,"v":7.50},{"s":"297","w":591,"v":6.95},{"s":"297","w":592,"v":6.72},{"s":"297","w":593,"v":6.52},{"s":"297","w":594,"v":6.30},{"s":"297","w":596,"v":5.80},{"s":"297","w":598,"v":5.18},{"s":"297","w":600,"v":4.48},{"s":"297","w":602,"v":3.75},{"s":"297","w":604,"v":3.05},{"s":"297","w":606,"v":2.45},{"s":"297","w":608,"v":1.92},{"s":"297","w":610,"v":1.52},{"s":"297","w":612,"v":1.22},{"s":"297","w":615,"v":0.88},{"s":"297","w":618,"v":0.63},{"s":"297","w":621,"v":0.45},{"s":"297","w":625,"v":0.26},{"s":"297","w":630,"v":0.10},{"s":"297","w":635,"v":0.04},{"s":"297","w":640,"v":0.02}
],
"a4": [
{"w":550,"v":0.168},{"w":553,"v":0.216},{"w":555.6,"v":0.269},{"w":558.3,"v":0.343},{"w":560.9,"v":0.396},{"w":564.2,"v":0.464},{"w":567.5,"v":0.523},{"w":570,"v":0.547},{"w":572.2,"v":0.557},{"w":574.5,"v":0.538},{"w":576,"v":0.51},{"w":578,"v":0.44},{"w":580,"v":0.37},{"w":582,"v":0.30},{"w":584,"v":0.225},{"w":586,"v":0.155},{"w":588.7,"v":0.099},{"w":591.4,"v":0.068},{"w":595.4,"v":0.052},{"w":600,"v":0.052},{"w":605,"v":0.053},{"w":610,"v":0.052},{"w":613.2,"v":0.057},{"w":618.5,"v":0.049},{"w":625.2,"v":0.041},{"w":629.8,"v":0.031},{"w":633.1,"v":0.025},{"w":636.4,"v":0.041},{"w":639.7,"v":0.031}
]
},
"concat": [
{
"width": 454, "height": 338,
"layer": [
{"data": {"name": "p1"},
 "mark": {"type": "line", "strokeWidth": 2, "interpolate": "monotone"},
 "encoding": {
  "x": {"field": "w", "type": "quantitative", "scale": {"domain": [560, 655], "nice": false, "zero": false},
   "axis": {"orient": "bottom", "title": "Wavelength (nm)", "values": [560,565,570,575,580,585,590,595,600,605,610,615,620,625,630,635,640,645,650,655], "labelExpr": "datum.value % 20 == 0 ? datum.label : ''", "tickSize": {"condition": {"test": "datum.value % 20 == 0", "value": 7}, "value": 4}}},
  "y": {"field": "v", "type": "quantitative", "scale": {"domain": [-0.23, 5], "nice": false, "zero": false},
   "axis": {"orient": "left", "title": "Intensity (a.u.)", "titlePadding": 26, "values": [0,0.5,1,1.5,2,2.5,3,3.5,4,4.5,5], "labelExpr": "datum.value % 1 == 0 ? format(datum.value, 'd') : ''", "tickSize": {"condition": {"test": "datum.value % 1 == 0", "value": 7}, "value": 4}}},
  "color": {"field": "s", "type": "nominal",
   "scale": {"domain": ["641","670","705","721","730","734"], "range": ["#000000","#c8202a","#0000ff","#008080","#cc33cc","#808000"]},
   "legend": {"orient": "none", "legendX": 294, "legendY": 16, "labelExpr": "datum.label + ' uJ/cm2'"}}
 }},
{"data": {"values": [{}]},
 "mark": {"type": "text", "align": "left", "baseline": "middle", "fontSize": 24, "color": "#e8141e", "font": "Liberation Sans"},
 "encoding": {
  "x": {"datum": 563.7, "type": "quantitative", "scale": {"domain": [560, 655], "nice": false, "zero": false}, "axis": null},
  "y": {"datum": 4.57, "type": "quantitative", "scale": {"domain": [-0.23, 5], "nice": false, "zero": false}, "axis": null},
  "text": {"value": "295 K"}
 }},
{"data": {"name": "a1"},
 "mark": {"type": "line", "strokeWidth": 2, "strokeDash": [9, 6], "color": "#0033ff", "interpolate": "monotone"},
 "encoding": {
  "x": {"field": "w", "type": "quantitative", "scale": {"domain": [560, 655], "nice": false, "zero": false},
   "axis": {"orient": "top", "title": "Energy (eV)", "values": [560,565,570,575,580,585,590,595,600,605,610,615,620,625,630,635,640,645,650,655], "labelExpr": "datum.value==560?'2.215':datum.value==580?'2.139':datum.value==600?'2.068':datum.value==620?'2.001':datum.value==640?'1.938':''", "tickSize": {"condition": {"test": "datum.value % 20 == 0", "value": 7}, "value": 4}}},
  "y": {"field": "v", "type": "quantitative", "scale": {"domain": [0, 0.848], "nice": false, "zero": false},
   "axis": {"orient": "right", "title": "ABS", "titlePadding": 23, "values": [0,0.1,0.2,0.3,0.4,0.5,0.6,0.7,0.8], "labelExpr": "round(datum.value*10) % 2 == 0 ? format(datum.value, '.1f') : ''", "tickSize": {"condition": {"test": "round(datum.value*10) % 2 == 0", "value": 7}, "value": 4}}}
 }}
],
"resolve": {"scale": {"x": "independent", "y": "independent"}}
},
{
"width": 454, "height": 338,
"layer": [
{"data": {"name": "p2"},
 "mark": {"type": "line", "strokeWidth": 2, "interpolate": "monotone"},
 "encoding": {
  "x": {"field": "w", "type": "quantitative", "scale": {"domain": [550, 640], "nice": false, "zero": false},
   "axis": {"orient": "bottom", "title": "Wavelength (nm)", "values": [550,555,560,565,570,575,580,585,590,595,600,605,610,615,620,625,630,635,640], "labelExpr": "datum.value % 20 == 0 ? datum.label : ''", "tickSize": {"condition": {"test": "datum.value % 20 == 0", "value": 7}, "value": 4}}},
  "y": {"field": "v", "type": "quantitative", "scale": {"domain": [-0.23, 8.62], "nice": false, "zero": false},
   "axis": {"orient": "left", "title": "Intensity (a.u.)", "titlePadding": 21, "values": [0,1,2,3,4,5,6,7,8], "labelExpr": "datum.value % 2 == 0 ? datum.label : ''", "tickSize": {"condition": {"test": "datum.value % 2 == 0", "value": 7}, "value": 4}}},
  "color": {"field": "s", "type": "nominal",
   "scale": {"domain": ["360","403","462","485","500","515"], "range": ["#000000","#ff0000","#10108c","#1a7a7a","#ff00ff","#7f7f1f"]},
   "legend": {"orient": "none", "legendX": 292, "legendY": 15, "labelExpr": "datum.label + ' uJ/cm2'"}}
 }},
{"data": {"values": [{}]},
 "mark": {"type": "text", "align": "left", "baseline": "middle", "fontSize": 24, "color": "#e8141e", "font": "Liberation Sans"},
 "encoding": {
  "x": {"datum": 554.1, "type": "quantitative", "scale": {"domain": [550, 640], "nice": false, "zero": false}, "axis": null},
  "y": {"datum": 7.61, "type": "quantitative", "scale": {"domain": [-0.23, 8.62], "nice": false, "zero": false}, "axis": null},
  "text": {"value": "200 K"}
 }},
{"data": {"name": "a2"},
 "mark": {"type": "line", "strokeWidth": 2, "strokeDash": [9, 6], "color": "#0033ff", "interpolate": "monotone"},
 "encoding": {
  "x": {"field": "w", "type": "quantitative", "scale": {"domain": [550, 640], "nice": false, "zero": false},
   "axis": {"orient": "top", "title": "Energy (eV)", "values": [550,555,560,565,570,575,580,585,590,595,600,605,610,615,620,625,630,635,640], "labelExpr": "datum.value==560?'2.215':datum.value==580?'2.139':datum.value==600?'2.068':datum.value==620?'2.001':datum.value==640?'1.938':''", "tickSize": {"condition": {"test": "datum.value % 20 == 0", "value": 7}, "value": 4}}},
  "y": {"field": "v", "type": "quantitative", "scale": {"domain": [0, 1.19], "nice": false, "zero": false},
   "axis": {"orient": "right", "title": "ABS", "titlePadding": 15, "values": [0,0.1,0.2,0.3,0.4,0.5,0.6,0.7,0.8,0.9,1.0,1.1], "labelExpr": "round(datum.value*10) % 2 == 0 ? format(datum.value, '.1f') : ''", "tickSize": {"condition": {"test": "round(datum.value*10) % 2 == 0", "value": 7}, "value": 4}}}
 }}
],
"resolve": {"scale": {"x": "independent", "y": "independent"}}
},
{
"width": 454, "height": 338,
"layer": [
{"data": {"name": "p3"},
 "mark": {"type": "line", "strokeWidth": 2, "interpolate": "monotone"},
 "encoding": {
  "x": {"field": "w", "type": "quantitative", "scale": {"domain": [550, 640], "nice": false, "zero": false},
   "axis": {"orient": "bottom", "title": "Wavelength (nm)", "values": [550,555,560,565,570,575,580,585,590,595,600,605,610,615,620,625,630,635,640], "labelExpr": "datum.value % 20 == 0 ? datum.label : ''", "tickSize": {"condition": {"test": "datum.value % 20 == 0", "value": 7}, "value": 4}}},
  "y": {"field": "v", "type": "quantitative", "scale": {"domain": [-0.23, 6.96], "nice": false, "zero": false},
   "axis": {"orient": "left", "title": "Intensity (a.u.)", "titlePadding": 26, "values": [0,1,2,3,4,5,6], "labelExpr": "datum.value % 2 == 0 ? datum.label : ''", "tickSize": {"condition": {"test": "datum.value % 2 == 0", "value": 7}, "value": 4}}},
  "color": {"field": "s", "type": "nominal",
   "scale": {"domain": ["377","383","398","416","435","446"], "range": ["#000000","#c8202a","#0000ff","#008080","#cc33cc","#808000"]},
   "legend": {"orient": "none", "legendX": 291, "legendY": 12, "labelExpr": "datum.label + ' uJ/cm2'"}}
 }},
{"data": {"values": [{}]},
 "mark": {"type": "text", "align": "left", "baseline": "middle", "fontSize": 24, "color": "#e8141e", "font": "Liberation Sans"},
 "encoding": {
  "x": {"datum": 554.5, "type": "quantitative", "scale": {"domain": [550, 640], "nice": false, "zero": false}, "axis": null},
  "y": {"datum": 6.15, "type": "quantitative", "scale": {"domain": [-0.23, 6.96], "nice": false, "zero": false}, "axis": null},
  "text": {"value": "175 K"}
 }},
{"data": {"name": "a3"},
 "mark": {"type": "line", "strokeWidth": 2, "strokeDash": [9, 6], "color": "#0033ff", "interpolate": "monotone"},
 "encoding": {
  "x": {"field": "w", "type": "quantitative", "scale": {"domain": [550, 640], "nice": false, "zero": false},
   "axis": {"orient": "top", "title": "Energy (eV)", "values": [550,555,560,565,570,575,580,585,590,595,600,605,610,615,620,625,630,635,640], "labelExpr": "datum.value==560?'2.215':datum.value==580?'2.139':datum.value==600?'2.068':datum.value==620?'2.001':datum.value==640?'1.938':''", "tickSize": {"condition": {"test": "datum.value % 20 == 0", "value": 7}, "value": 4}}},
  "y": {"field": "v", "type": "quantitative", "scale": {"domain": [0, 0.955], "nice": false, "zero": false},
   "axis": {"orient": "right", "title": "ABS", "titlePadding": 30, "values": [0,0.1,0.2,0.3,0.4,0.5,0.6,0.7,0.8,0.9], "labelExpr": "round(datum.value*10) % 2 == 0 ? format(datum.value, '.1f') : ''", "tickSize": {"condition": {"test": "round(datum.value*10) % 2 == 0", "value": 7}, "value": 4}}}
 }}
],
"resolve": {"scale": {"x": "independent", "y": "independent"}}
},
{
"width": 454, "height": 338,
"layer": [
{"data": {"name": "p4"},
 "mark": {"type": "line", "strokeWidth": 2, "interpolate": "monotone"},
 "encoding": {
  "x": {"field": "w", "type": "quantitative", "scale": {"domain": [550, 640], "nice": false, "zero": false},
   "axis": {"orient": "bottom", "title": "Wavelength (nm)", "values": [550,555,560,565,570,575,580,585,590,595,600,605,610,615,620,625,630,635,640], "labelExpr": "datum.value % 20 == 0 ? datum.label : ''", "tickSize": {"condition": {"test": "datum.value % 20 == 0", "value": 7}, "value": 4}}},
  "y": {"field": "v", "type": "quantitative", "scale": {"domain": [-0.42, 10.47], "nice": false, "zero": false},
   "axis": {"orient": "left", "title": "Intensity (a.u.)", "titlePadding": 30, "values": [0,1,2,3,4,5,6,7,8,9,10], "labelExpr": "datum.value % 2 == 0 ? datum.label : ''", "tickSize": {"condition": {"test": "datum.value % 2 == 0", "value": 7}, "value": 4}}},
  "color": {"field": "s", "type": "nominal",
   "scale": {"domain": ["226","258","271","274","285","297"], "range": ["#000000","#ff0000","#10108c","#1a7a7a","#ff00ff","#7f7f1f"]},
   "legend": {"orient": "none", "legendX": 291, "legendY": 10, "labelExpr": "datum.label + ' uJ/cm2'"}}
 }},
{"data": {"values": [{}]},
 "mark": {"type": "text", "align": "left", "baseline": "middle", "fontSize": 24, "color": "#e8141e", "font": "Liberation Sans"},
 "encoding": {
  "x": {"datum": 555.6, "type": "quantitative", "scale": {"domain": [550, 640], "nice": false, "zero": false}, "axis": null},
  "y": {"datum": 9.22, "type": "quantitative", "scale": {"domain": [-0.42, 10.47], "nice": false, "zero": false}, "axis": null},
  "text": {"value": "5 K"}
 }},
{"data": {"name": "a4"},
 "mark": {"type": "line", "strokeWidth": 2, "strokeDash": [9, 6], "color": "#0033ff", "interpolate": "monotone"},
 "encoding": {
  "x": {"field": "w", "type": "quantitative", "scale": {"domain": [550, 640], "nice": false, "zero": false},
   "axis": {"orient": "top", "title": "Energy (eV)", "values": [550,555,560,565,570,575,580,585,590,595,600,605,610,615,620,625,630,635,640], "labelExpr": "datum.value==560?'2.215':datum.value==580?'2.139':datum.value==600?'2.068':datum.value==620?'2.001':datum.value==640?'1.938':''", "tickSize": {"condition": {"test": "datum.value % 20 == 0", "value": 7}, "value": 4}}},
  "y": {"field": "v", "type": "quantitative", "scale": {"domain": [0, 1.063], "nice": false, "zero": false},
   "axis": {"orient": "right", "title": "ABS", "titlePadding": 24, "values": [0,0.1,0.2,0.3,0.4,0.5,0.6,0.7,0.8,0.9,1.0], "labelExpr": "round(datum.value*10) % 2 == 0 ? format(datum.value, '.1f') : ''", "tickSize": {"condition": {"test": "round(datum.value*10) % 2 == 0", "value": 7}, "value": 4}}}
 }}
],
"resolve": {"scale": {"x": "independent", "y": "independent"}}
}
],
"resolve": {"scale": {"color": "independent"}, "legend": {"color": "independent"}},
"config": {
 "view": {"stroke": null},
 "font": "Liberation Sans",
 "axis": {"grid": false, "ticks": true, "domainColor": "#000000", "domainWidth": 3, "domainCap": "square", "tickColor": "#000000", "tickWidth": 2, "labelColor": "#000000", "labelFont": "Liberation Sans", "labelFontSize": 18, "labelPadding": 3, "labelOverlap": false, "labelFlush": false, "titleFont": "Liberation Sans", "titleFontSize": 24, "titleFontWeight": "normal", "titleColor": "#000000"},
 "axisBottom": {"titlePadding": 17, "labelPadding": 4},
 "axisTop": {"titlePadding": 3, "labelPadding": 0},
 "axisLeft": {"titleFontWeight": "bold", "titlePadding": 26},
 "axisRight": {"titleFontWeight": "bold", "titlePadding": 13, "titleAngle": 270, "titleBaseline": "top"},
 "legend": {"title": null, "symbolType": "stroke", "symbolSize": 1600, "symbolStrokeWidth": 2, "labelFont": "Liberation Sans", "labelFontSize": 18, "labelColor": "#000000", "labelOffset": 6, "clipHeight": 16, "rowPadding": 6.5, "padding": 0}
}
}
